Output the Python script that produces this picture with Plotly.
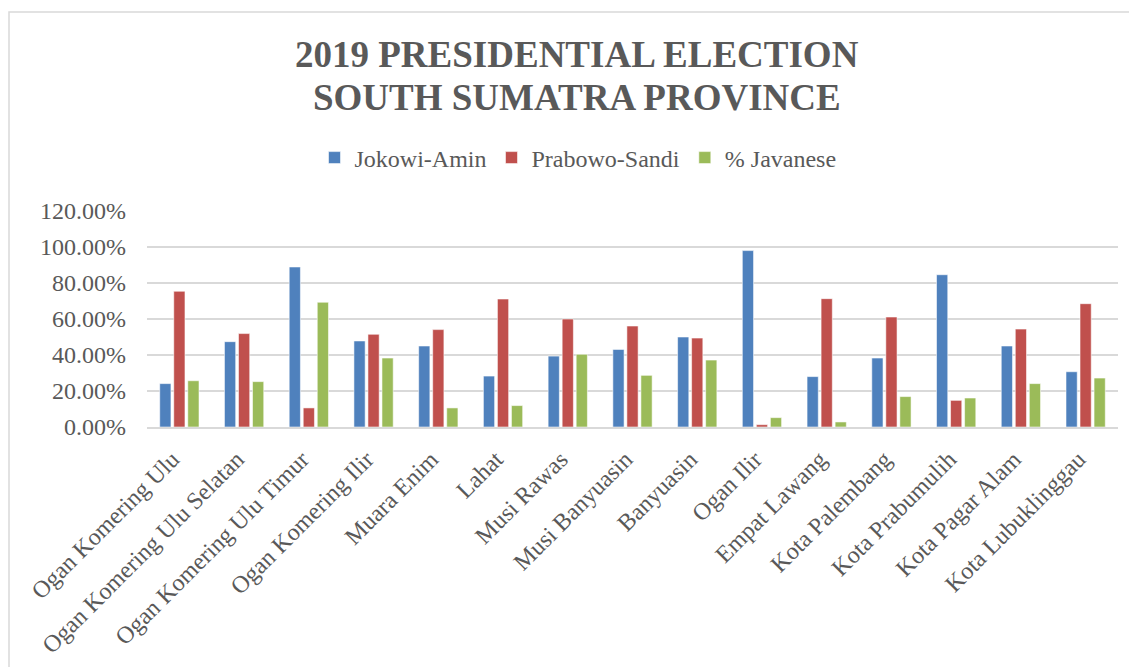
import plotly.graph_objects as go

categories = ["Ogan Komering Ulu", "Ogan Komering Ulu Selatan", "Ogan Komering Ulu Timur",
              "Ogan Komering Ilir", "Muara Enim", "Lahat", "Musi Rawas", "Musi Banyuasin",
              "Banyuasin", "Ogan Ilir", "Empat Lawang", "Kota Palembang", "Kota Prabumulih",
              "Kota Pagar Alam", "Kota Lubuklinggau"]
jokowi = [24.1, 47.4, 88.9, 47.8, 45.0, 28.3, 39.4, 43.1, 50.0, 98.0, 28.0, 38.3, 84.6, 45.0, 30.7]
prabowo = [75.4, 51.9, 10.6, 51.5, 54.1, 71.1, 60.0, 56.1, 49.4, 1.3, 71.3, 61.1, 14.8, 54.4, 68.5]
javanese = [25.7, 25.2, 69.3, 38.3, 10.6, 11.9, 40.4, 28.7, 37.2, 5.2, 2.8, 16.9, 16.1, 24.1, 27.2]
title_lines = ["2019 PRESIDENTIAL ELECTION", "SOUTH SUMATRA PROVINCE"]

series = [("Jokowi-Amin", jokowi, "#4F81BD"),
          ("Prabowo-Sandi", prabowo, "#C0504D"),
          ("% Javanese", javanese, "#9BBB59")]

OFF = 8  # page body margin
W, H = 1137, 667
L, T = 147 - OFF, 211 - OFF
R = W - (1118 - OFF)
B = H - (427 - OFF)
pw, ph = W - L - R, H - T - B

def px(xw):
    return (xw - OFF - L) / pw

def py(yw):
    return (H - B - (yw - OFF)) / ph

fig = go.Figure()
for name, vals, col in series:
    fig.add_trace(go.Bar(x=categories, y=vals, name=name,
                         marker=dict(color=col, line=dict(color="rgba(255,255,255,0.55)", width=1))))

ff = "Liberation Serif"
grey = "#595959"
fig.update_layout(
    width=W, height=H,
    margin=dict(l=L, r=R, t=T, b=B, autoexpand=False),
    paper_bgcolor="white", plot_bgcolor="white",
    barmode="group", bargap=0.35, bargroupgap=0.2,
    font=dict(family=ff, color=grey, size=24),
    legend=dict(orientation="h", x=px(578), xanchor="center",
                y=py(158), yanchor="middle",
                font=dict(family=ff, size=24, color=grey), itemwidth=30,
                traceorder="normal"),
    showlegend=True,
)
for txt, yw in zip(title_lines, [55, 97]):
    fig.add_annotation(text="<b>" + txt + "</b>", xref="paper", yref="paper",
                       x=px(577), y=py(yw), xanchor="center", yanchor="middle",
                       showarrow=False, font=dict(family=ff, size=37, color=grey))

fig.update_yaxes(range=[0, 120], dtick=20, tickformat=".2f", ticksuffix="%",
                 showgrid=True, gridcolor="#D9D9D9", gridwidth=1.5,
                 zeroline=False, showline=False, ticks="", ticklabelstandoff=20,
                 tickfont=dict(family=ff, size=24, color=grey))
fig.update_xaxes(tickangle=-45, showline=True, linecolor="#D9D9D9", linewidth=1.5,
                 ticks="", ticklabelstandoff=7, ticklabelshift=-7,
                 tickfont=dict(family=ff, size=24, color=grey))

# outer chart border
fig.add_shape(type="rect", xref="paper", yref="paper",
              x0=px(9), x1=px(1160), y0=py(690), y1=py(12),
              line=dict(color="#D9D9D9", width=1.5), fillcolor="rgba(0,0,0,0)", layer="below")

fig.write_html("out.html")
